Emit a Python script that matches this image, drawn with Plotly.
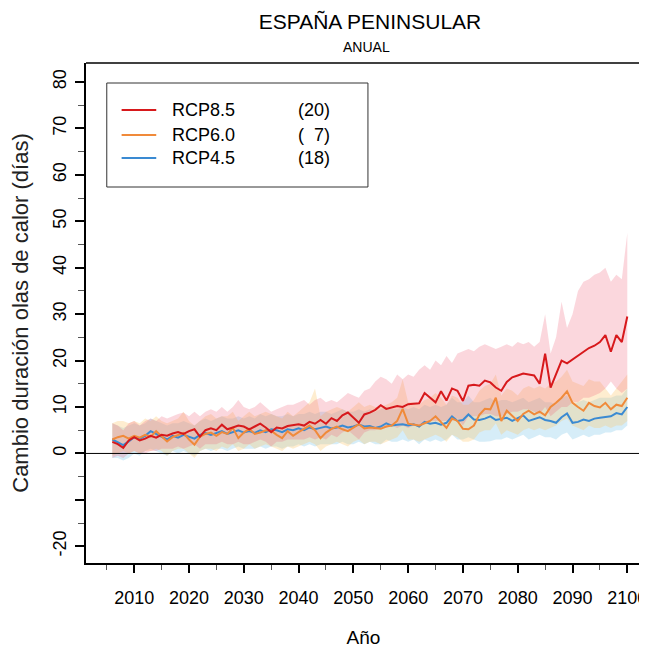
import plotly.graph_objects as go

years = list(range(2006, 2101))

rcp85_mean = [2.5, 2.0, 1.2, 2.8, 3.5, 2.8, 3.2, 3.8, 3.4, 4.0,
              3.8, 4.3, 4.6, 4.2, 4.8, 5.2, 3.6, 5.0, 5.4, 5.0,
              6.2, 5.2, 5.6, 6.0, 5.8, 5.2, 5.8, 6.4, 5.6, 4.6,
              5.6, 5.4, 5.9, 6.1, 6.3, 6.0, 6.8, 6.4, 7.2, 6.4,
              7.6, 7.0, 8.2, 8.8, 7.6, 6.6, 8.4, 8.8, 9.4, 10.4,
              9.6, 9.9, 10.2, 10.0, 10.6, 10.7, 10.8, 13.0, 12.0, 11.0,
              13.4, 11.4, 14.0, 13.5, 11.3, 14.6, 14.8, 14.6, 15.7, 15.3,
              14.2, 13.5, 15.4, 16.4, 16.8, 17.2, 17.0, 16.8, 15.0, 21.5,
              14.2, 17.2, 20.0, 19.4, 20.2, 21.1, 21.8, 22.7, 23.2, 24.0,
              25.5, 21.9, 25.5, 24.0, 29.5]
rcp85_hi = [6.5, 6.0, 5.0, 6.5, 7.0, 6.0, 7.0, 7.5, 7.0, 8.0,
            7.5, 8.0, 8.5, 8.8, 8.0, 9.0, 8.0, 9.0, 9.5, 9.0,
            10.0, 9.0, 10.0, 11.5, 10.0, 9.5, 10.0, 11.0, 10.0, 9.0,
            9.5, 10.0, 10.5, 10.5, 11.0, 11.5, 10.5, 11.5, 12.0, 11.0,
            11.5, 11.0, 12.0, 13.0, 12.5, 12.0, 13.5, 14.0, 15.5, 16.5,
            16.0, 15.0, 17.0, 16.0, 17.0, 16.5, 18.0, 19.0, 18.0, 20.0,
            19.0, 21.0, 19.5, 21.5, 22.0, 22.5, 22.0, 23.0, 23.5, 23.0,
            22.5, 23.0, 23.5, 23.0, 24.0, 23.5, 24.0, 23.0, 24.0, 30.0,
            21.5, 25.0, 32.7, 27.0, 30.0, 35.0, 37.0, 37.5, 38.5, 39.0,
            40.0, 37.0, 38.5, 37.5, 47.5]
rcp85_lo = [-1.0, -0.5, -1.0, 0.0, 0.5, 0.0, 0.0, 0.5, 0.5, 1.0,
            1.0, 1.0, 1.5, 1.0, 1.5, 2.0, 1.0, 2.0, 2.0, 2.0,
            2.5, 2.0, 2.0, 2.5, 2.0, 2.0, 2.5, 3.0, 2.5, 1.5,
            2.5, 2.5, 3.0, 3.0, 3.0, 3.0, 3.5, 3.0, 3.5, 3.0,
            4.0, 3.5, 4.5, 5.0, 4.0, 3.0, 4.5, 5.0, 5.0, 5.5,
            5.5, 6.0, 5.5, 6.0, 5.5, 6.0, 6.0, 6.5, 7.0, 7.0,
            7.0, 7.0, 7.0, 7.5, 6.0, 8.0, 8.0, 8.0, 8.5, 8.5,
            8.0, 8.0, 8.5, 9.0, 9.0, 9.5, 9.5, 9.0, 8.5, 10.0,
            8.0, 9.0, 10.0, 10.0, 11.0, 11.0, 12.0, 12.0, 12.5, 13.0,
            14.0, 15.5, 14.0, 13.0, 14.0]

rcp60_mean = [3.0, 3.5, 3.8, 3.2, 3.8, 3.4, 4.0, 3.6, 4.8, 3.8,
              2.6, 3.5, 4.0, 4.4, 3.0, 1.9, 3.6, 4.2, 4.5, 3.8,
              4.6, 4.2, 5.5, 3.3, 4.5, 5.3, 4.2, 4.5, 5.0, 4.9,
              4.0, 3.3, 4.8, 3.8, 4.6, 5.3, 6.0, 5.0, 3.3, 4.5,
              5.3, 5.8, 5.2, 4.8, 5.5, 6.3, 5.4, 5.6, 5.5, 5.3,
              5.8, 6.0, 7.0, 9.6, 6.4, 6.2, 6.0, 6.5, 7.0, 8.0,
              6.8, 5.5, 7.5, 7.0, 5.3, 5.2, 6.0, 8.3, 9.6, 9.5,
              12.0, 7.0, 9.2, 8.0, 7.0, 8.5, 9.2, 8.4, 9.0, 8.2,
              10.0, 10.9, 12.0, 13.4, 10.9, 10.0, 9.2, 10.9, 10.2, 9.9,
              10.9, 9.5, 10.5, 10.2, 12.0]
rcp60_hi = [6.5, 7.0, 7.0, 6.5, 7.0, 6.5, 7.5, 7.0, 8.0, 7.0,
            6.5, 7.0, 7.5, 9.0, 7.0, 6.0, 7.0, 8.0, 8.5, 7.5,
            8.0, 8.0, 9.0, 7.0, 8.0, 9.0, 8.0, 8.5, 9.0, 8.5,
            8.0, 7.5, 9.0, 8.0, 9.0, 10.0, 11.0, 14.0, 8.0, 9.0,
            9.5, 10.0, 9.5, 9.0, 10.0, 11.0, 10.0, 10.5, 10.0, 10.0,
            10.5, 11.0, 12.0, 16.0, 11.0, 11.0, 10.5, 11.5, 12.0, 13.0,
            12.0, 10.5, 12.5, 12.0, 10.5, 10.5, 11.5, 13.5, 14.5, 15.0,
            17.0, 12.5, 14.0, 13.5, 12.5, 14.0, 14.5, 14.0, 14.5, 14.0,
            15.0, 15.5, 16.5, 18.0, 15.5, 15.0, 14.5, 16.0, 15.5, 15.5,
            14.0, 12.5, 14.0, 15.5, 17.0]
rcp60_lo = [-0.5, 0.0, 0.5, 0.0, 0.5, 0.0, 0.5, 0.5, 1.0, 0.5,
            -0.5, 0.5, 1.0, 1.0, 0.0, -1.0, 0.5, 1.0, 1.0, 0.5,
            1.5, 1.0, 2.0, 0.5, 1.0, 2.0, 1.0, 1.5, 2.0, 1.5,
            1.0, 0.5, 1.5, 1.0, 1.5, 2.0, 2.5, 2.0, 0.5, 1.5,
            2.0, 2.5, 2.0, 1.5, 2.5, 3.0, 2.0, 2.5, 2.5, 2.0,
            2.5, 3.0, 3.5, 5.0, 3.0, 3.0, 2.5, 3.0, 3.5, 4.0,
            3.5, 2.5, 4.0, 3.5, 2.5, 2.5, 3.0, 4.5, 5.0, 5.0,
            6.5, 4.0, 5.0, 4.5, 4.0, 5.0, 5.5, 5.0, 5.5, 5.0,
            5.5, 6.0, 7.0, 7.5, 6.0, 5.5, 5.0, 6.0, 5.5, 5.5,
            6.0, 5.5, 6.0, 6.0, 7.0]

rcp45_mean = [3.0, 2.4, 1.8, 2.6, 3.5, 3.2, 3.8, 4.8, 4.2, 3.6,
              3.0, 3.8, 3.4, 4.0, 3.6, 3.2, 4.0, 4.4, 4.0, 4.4,
              4.8, 4.2, 4.6, 5.0, 4.5, 4.8, 4.4, 5.0, 4.6, 5.2,
              5.0, 4.6, 5.2, 5.0, 5.4, 5.0, 5.6, 5.2, 5.5, 5.8,
              5.4, 5.6, 6.0, 5.6, 5.8, 6.2, 5.8, 5.9, 5.5, 5.8,
              6.5, 6.0, 6.2, 6.3, 6.0, 6.3, 5.8, 6.8, 6.4, 6.6,
              6.2, 6.6, 8.0, 7.0, 7.2, 8.4, 7.3, 7.2, 7.5, 8.0,
              7.2, 7.4, 7.7, 7.0, 7.6, 8.2, 7.0, 7.4, 7.8, 7.2,
              7.0, 6.6, 7.8, 8.6, 6.6, 6.8, 7.3, 7.0, 7.5, 7.7,
              7.9, 8.0, 8.7, 8.4, 10.0]
rcp45_hi = [6.5, 6.0, 5.5, 6.0, 6.5, 6.0, 6.5, 7.5, 7.0, 6.5,
            6.0, 6.5, 6.5, 7.0, 6.5, 6.0, 7.0, 7.5, 7.0, 7.5,
            8.0, 7.5, 7.5, 8.0, 7.5, 8.0, 7.5, 8.5, 8.0, 8.5,
            8.0, 8.0, 8.5, 8.0, 8.5, 8.5, 9.0, 8.5, 9.0, 9.0,
            8.5, 9.0, 9.5, 9.0, 9.0, 9.5, 9.0, 9.5, 9.0, 9.5,
            10.0, 9.5, 9.5, 10.0, 9.5, 10.0, 9.5, 10.5, 10.0, 10.5,
            10.0, 10.5, 12.0, 11.0, 11.0, 12.5, 11.0, 11.0, 11.5, 12.0,
            11.0, 11.5, 11.5, 11.0, 11.5, 12.0, 11.0, 11.5, 12.0, 11.0,
            11.0, 10.5, 12.0, 12.5, 10.5, 11.0, 11.5, 11.0, 11.5, 12.0,
            12.0, 12.0, 12.5, 12.5, 14.0]
rcp45_lo = [-1.0, -1.0, -1.5, -1.0, 0.0, -0.5, 0.5, 1.0, 0.5, 0.0,
            -0.5, 0.5, 0.0, 0.5, 0.0, -0.5, 0.5, 1.0, 0.5, 1.0,
            1.0, 0.5, 1.0, 1.5, 1.0, 1.0, 1.0, 1.5, 1.0, 1.5,
            1.5, 1.0, 1.5, 1.5, 2.0, 1.5, 2.0, 1.5, 2.0, 2.0,
            2.0, 2.0, 2.5, 2.0, 2.0, 2.5, 2.0, 2.5, 2.0, 2.0,
            3.0, 2.5, 2.5, 3.0, 2.5, 3.0, 2.0, 3.0, 2.5, 3.0,
            2.5, 3.0, 4.0, 3.0, 3.0, 3.5, 3.0, 2.5, 2.5, 2.6,
            3.0, 3.0, 3.5, 3.0, 3.5, 4.0, 3.0, 3.5, 4.0, 3.5,
            3.5, 3.0, 4.0, 4.5, 3.0, 3.5, 4.0, 3.5, 4.0, 4.0,
            4.5, 4.5, 5.0, 5.0, 6.0]

series_names = ["RCP8.5", "RCP6.0", "RCP4.5"]
series_counts = ["(20)", "(\u00a0\u00a07)", "(18)"]
line_colors = ["#D7191C", "#F08A3A", "#3A8AD2"]
band_colors = ["rgba(240,100,125,0.26)", "rgba(252,200,110,0.32)", "rgba(120,195,232,0.30)"]

x_ticks = list(range(2010, 2101, 10))
x_minor = list(range(2005, 2100, 10))
y_ticks = list(range(-20, 81, 10))
y_ticktext = [str(v) if v != -10 else "" for v in y_ticks]
y_minor = list(range(-15, 80, 10))

FONT = "Liberation Sans, Arial, Helvetica, sans-serif"

fig = go.Figure()

bands = [(rcp45_lo, rcp45_hi), (rcp60_lo, rcp60_hi), (rcp85_lo, rcp85_hi)]
band_col = [band_colors[2], band_colors[1], band_colors[0]]
for (lo, hi), col in zip(bands, band_col):
    fig.add_trace(go.Scatter(x=years + years[::-1], y=hi + lo[::-1], fill="toself",
                             fillcolor=col, line=dict(width=0), mode="lines",
                             hoverinfo="skip", showlegend=False))

means = [(rcp45_mean, 2), (rcp60_mean, 1), (rcp85_mean, 0)]
for m, i in means:
    fig.add_trace(go.Scatter(x=years, y=m, mode="lines", name=series_names[i],
                             line=dict(color=line_colors[i], width=2), showlegend=False))

# frame: top line and zero line
shapes = [
    dict(type="line", xref="paper", yref="paper", x0=0, x1=1, y0=1, y1=1,
         line=dict(color="black", width=1.5)),
    dict(type="line", xref="paper", yref="y", x0=0, x1=1, y0=0, y1=0,
         line=dict(color="black", width=1)),
]

# screen coordinates (page has an 8px body margin)
W, H = 561.0, 500.0
def px(xp): return (xp - 86.0) / W
def py(yp): return (563.0 - yp) / H

shapes.append(dict(type="rect", xref="paper", yref="paper", x0=px(107), x1=px(371),
                   y0=py(187), y1=py(83), line=dict(color="#333333", width=1),
                   fillcolor="rgba(0,0,0,0)"))
annotations = []
rows_y = [110, 135, 158]
for i in range(3):
    shapes.append(dict(type="line", xref="paper", yref="paper", x0=px(122), x1=px(157),
                       y0=py(rows_y[i]), y1=py(rows_y[i]),
                       line=dict(color=line_colors[i], width=2)))
    annotations.append(dict(text=series_names[i], xref="paper", yref="paper", x=px(171),
                            y=py(rows_y[i]), xanchor="left", yanchor="middle", showarrow=False,
                            font=dict(family=FONT, size=18, color="black")))
    annotations.append(dict(text=series_counts[i], xref="paper", yref="paper", x=px(298),
                            y=py(rows_y[i]), xanchor="left", yanchor="middle", showarrow=False,
                            font=dict(family=FONT, size=18, color="black")))

annotations.append(dict(text="ANUAL", xref="paper", yref="paper", x=px(370), y=py(47),
                        xanchor="center", yanchor="middle", showarrow=False,
                        font=dict(family=FONT, size=14, color="black")))

fig.update_layout(
    width=639, height=640,
    margin=dict(l=78, r=0, t=55, b=85),
    paper_bgcolor="white", plot_bgcolor="white",
    title=dict(text="ESPAÑA PENINSULAR", x=362 / 639, xanchor="center",
               y=1 - 14 / 640, yanchor="middle", font=dict(family=FONT, size=21, color="black")),
    shapes=shapes, annotations=annotations,
    showlegend=False,
    xaxis=dict(range=[2001.2, 2102.5], showgrid=False, zeroline=False,
               showline=True, linecolor="black", linewidth=1.5,
               ticks="outside", tickmode="array", tickvals=x_ticks,
               ticklen=8, tickwidth=1.5, tickcolor="black",
               tickfont=dict(family=FONT, size=18, color="black"),
               ticklabelstandoff=10, ticklabeloverflow="allow",
               minor=dict(tickmode="array", tickvals=x_minor, ticks="outside",
                          ticklen=5, tickwidth=1, tickcolor="#555555"),
               title=dict(text="Año", font=dict(family=FONT, size=19, color="black"), standoff=26)),
    yaxis=dict(range=[-23.6, 84.1], showgrid=False, zeroline=False,
               showline=True, linecolor="black", linewidth=1.5,
               ticks="outside", tickmode="array", tickvals=y_ticks, ticktext=y_ticktext,
               ticklen=9, tickwidth=1.5, tickcolor="black", tickangle=-90,
               tickfont=dict(family=FONT, size=18, color="black"),
               ticklabelstandoff=2,
               minor=dict(tickmode="array", tickvals=y_minor, ticks="outside",
                          ticklen=6, tickwidth=1, tickcolor="#555555"),
               title=dict(text="Cambio duración olas de calor (días)",
                          font=dict(family=FONT, size=22, color="#222222"), standoff=15)),
)

fig.write_html("out.html")
